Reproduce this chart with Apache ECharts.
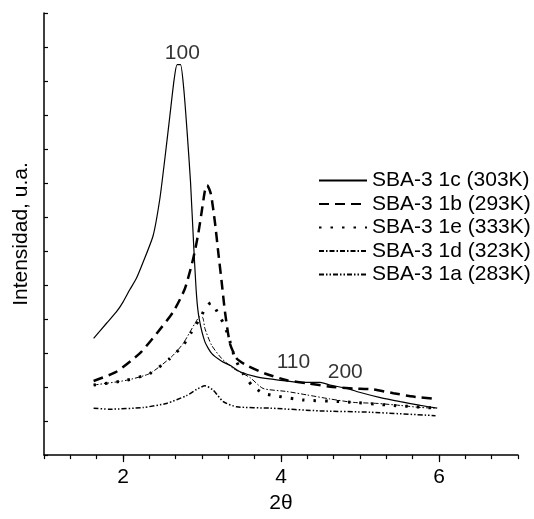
<!DOCTYPE html>
<html>
<head>
<meta charset="utf-8">
<script src="https://cdn.jsdelivr.net/npm/echarts@6/dist/echarts.min.js"></script>
<style>
  html, body { margin: 0; padding: 0; background: #fff; }
  #chart { width: 534px; height: 519px; }
</style>
</head>
<body>
<div id="chart"></div>
<script>
const sba1c = [
  [1.628, 3.43], [1.789, 3.87], [1.916, 4.21], [2.000, 4.50], [2.085, 4.86], [2.170, 5.20],
  [2.254, 5.67], [2.381, 6.45], [2.466, 7.53], [2.529, 8.70], [2.593, 9.97], [2.647, 11.04],
  [2.685, 11.48], [2.728, 11.48], [2.770, 10.75], [2.812, 9.49], [2.855, 8.02], [2.897, 6.06],
  [2.931, 4.69], [2.964, 4.01], [3.037, 3.33], [3.122, 2.99], [3.249, 2.76], [3.354, 2.64],
  [3.481, 2.45], [3.693, 2.30], [3.989, 2.20], [4.243, 2.14], [4.496, 2.14], [4.623, 2.06],
  [4.835, 1.96], [5.004, 1.84], [5.258, 1.69], [5.512, 1.57], [5.766, 1.46], [5.977, 1.38]
];
const sba1b = [
  [1.628, 2.18], [1.916, 2.45], [2.212, 2.99], [2.424, 3.57], [2.635, 4.21], [2.783, 4.89],
  [2.888, 5.77], [2.952, 6.50], [2.995, 7.14], [3.037, 7.77], [3.066, 7.94], [3.113, 7.67],
  [3.164, 6.84], [3.206, 5.96], [3.249, 5.09], [3.291, 4.21], [3.354, 3.28], [3.439, 2.84],
  [3.566, 2.64], [3.798, 2.40], [4.074, 2.20], [4.344, 2.11], [4.623, 2.01], [4.915, 1.96],
  [5.169, 1.93], [5.423, 1.82], [5.676, 1.72], [5.956, 1.65]
];
const sba1e = [
  [1.628, 2.06], [2.043, 2.20], [2.339, 2.40], [2.593, 2.84], [2.761, 3.23], [2.868, 3.62],
  [2.995, 4.11], [3.050, 4.36], [3.113, 4.48], [3.164, 4.33], [3.227, 4.07], [3.291, 3.78],
  [3.354, 3.34], [3.418, 2.84], [3.519, 2.40], [3.633, 2.05], [3.773, 1.82], [3.963, 1.73],
  [4.281, 1.62], [4.789, 1.57], [5.423, 1.46], [5.981, 1.38]
];
const sba1d = [
  [1.628, 2.06], [2.043, 2.20], [2.339, 2.40], [2.614, 2.89], [2.761, 3.28], [2.910, 3.87],
  [2.973, 4.07], [3.011, 4.04], [3.037, 3.72], [3.122, 3.23], [3.249, 2.84], [3.396, 2.55],
  [3.608, 2.28], [3.773, 1.96], [4.074, 1.87], [4.327, 1.77], [4.623, 1.65], [4.915, 1.55],
  [5.216, 1.52], [5.512, 1.46], [5.766, 1.40], [5.956, 1.38]
];
const sba1a = [
  [1.628, 1.38], [1.831, 1.35], [2.254, 1.40], [2.551, 1.52], [2.805, 1.75], [2.931, 1.93],
  [3.037, 2.04], [3.142, 1.91], [3.269, 1.57], [3.439, 1.42], [3.862, 1.38], [4.496, 1.30],
  [5.131, 1.26], [5.956, 1.16]
];
// índices de Miller
const picos = [[2.751, 11.82, '100'], [4.157, 2.74, '110'], [4.813, 2.45, '200']];

const xMajor = [2, 4, 6];
const xMinor = Array.from({ length: 19 }, (_, i) => 1 + i / 3);
const nombres = ['SBA-3 1c (303K)', 'SBA-3 1b (293K)', 'SBA-3 1e (333K)', 'SBA-3 1d (323K)', 'SBA-3 1a (283K)'];

const fuente = '"Liberation Sans", Arial, sans-serif';
const chart = echarts.init(document.getElementById('chart'));

const linea = (name, data, width, type) => ({
  name, type: 'line', data, symbol: 'none', smooth: 0.2,
  lineStyle: { color: '#000', width, type },
  itemStyle: { color: '#000' },
  z: 3
});

chart.setOption({
  animation: false,
  grid: { left: 44, right: 16, top: 13, bottom: 62 },
  legend: {
    data: nombres,
    orient: 'vertical',
    left: 318, top: 170, padding: 0,
    itemWidth: 48, itemHeight: 14, itemGap: 2.5,
    itemStyle: { opacity: 0 },
    textStyle: { fontFamily: fuente, fontSize: 21, color: '#000', lineHeight: 20 }
  },
  xAxis: [
    {
      type: 'value', min: 1, max: 7,
      name: '2θ', nameLocation: 'middle', nameGap: 37,
      nameTextStyle: { fontFamily: fuente, fontSize: 21, color: '#000' },
      axisLine: { lineStyle: { color: '#000', width: 1.5 } },
      axisTick: { customValues: xMajor, length: 7, lineStyle: { color: '#000', width: 1.2 } },
      axisLabel: { customValues: xMajor, margin: 12, fontFamily: fuente, fontSize: 21, color: '#000' },
      splitLine: { show: false }
    },
    {
      type: 'value', min: 1, max: 7, position: 'bottom', offset: 0,
      axisLine: { show: false },
      axisTick: { customValues: xMinor, length: 4, lineStyle: { color: '#000', width: 1.2 } },
      axisLabel: { show: false },
      splitLine: { show: false }
    }
  ],
  yAxis: {
    type: 'value', min: 0, max: 13, interval: 1,
    name: 'Intensidad, u.a.', nameLocation: 'middle', nameGap: 12,
    nameTextStyle: { fontFamily: fuente, fontSize: 21, color: '#000' },
    axisLine: { lineStyle: { color: '#000', width: 1.5 } },
    axisTick: { inside: true, length: 4, lineStyle: { color: '#000', width: 1.2 } },
    axisLabel: { show: false },
    splitLine: { show: false }
  },
  series: [
    linea(nombres[0], sba1c, 1.2, 'solid'),
    linea(nombres[1], sba1b, 2.5, [10, 6]),
    linea(nombres[2], sba1e, 3, [2.5, 9]),
    linea(nombres[3], sba1d, 1, [5, 2, 1.5, 2]),
    linea(nombres[4], sba1a, 1.5, [5, 2, 1.5, 2, 1.5, 2]),
    {
      type: 'scatter', name: 'picos', symbolSize: 0,
      itemStyle: { color: '#000' },
      data: picos.map(p => ({ value: [p[0], p[1]], label: { formatter: p[2] } })),
      label: {
        show: true, position: 'inside', fontFamily: fuente, fontSize: 21,
        color: '#000', textBorderWidth: 0, textBorderColor: 'transparent'
      },
      silent: true, z: 5
    }
  ]
});
</script>
</body>
</html>
